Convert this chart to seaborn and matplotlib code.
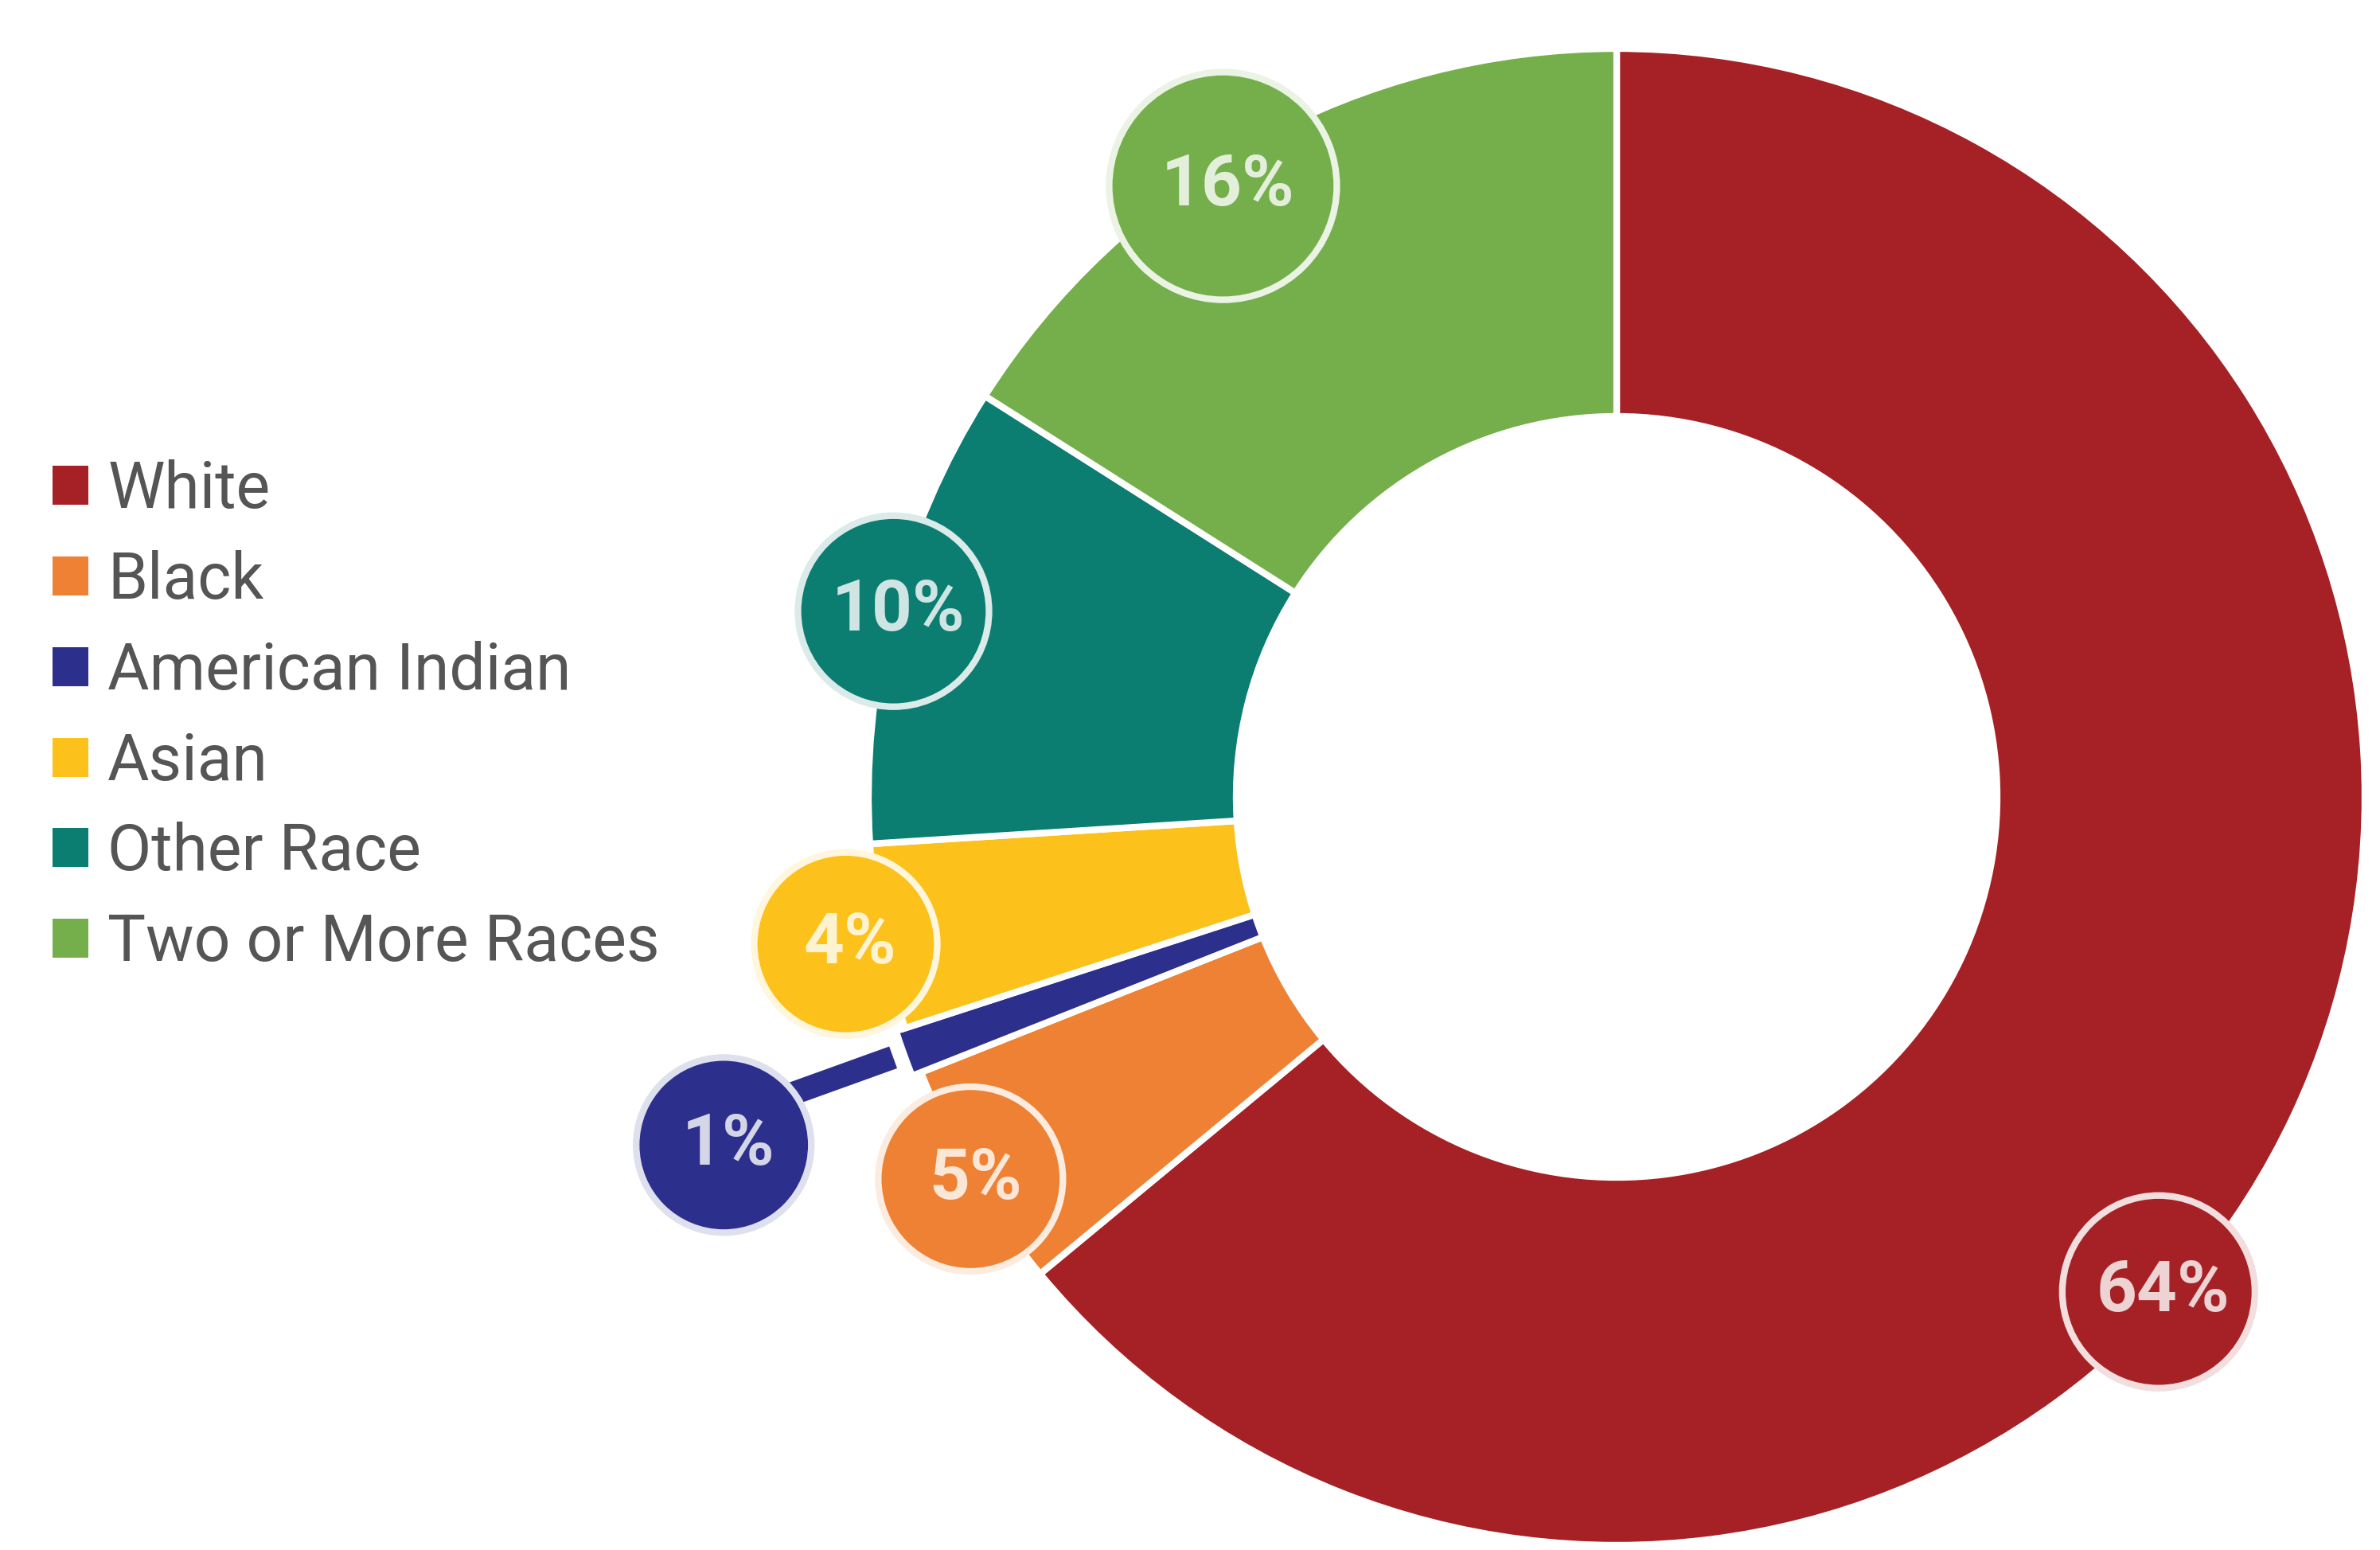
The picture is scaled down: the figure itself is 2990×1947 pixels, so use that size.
import numpy as np
import matplotlib
matplotlib.use("Agg")
import matplotlib.pyplot as plt
from matplotlib.patches import Circle, Patch
import matplotlib.colors as mcolors
import seaborn as sns

# ---- data ----
categories = ["White", "Black", "American Indian", "Asian", "Other Race", "Two or More Races"]
shares = [64, 5, 1, 4, 10, 16]
labels = ["64%", "5%", "1%", "4%", "10%", "16%"]
hex_colors = ["#A62125", "#EE8133", "#2C2F8C", "#FCC21B", "#0B7D71", "#74AF4B"]

# ---- style / layout ----
sns.set_theme(style="white")
plt.rcParams["font.family"] = ["Roboto", "DejaVu Sans"]
palette = sns.color_palette(hex_colors)

W, H = 2990, 1947
CX, CY = 2031, H - 1001
R_OUT, R_IN = 940, 478
label_r = [922, 943, 1204, 986, 938, 913]          # radial distance of label discs
label_dang = [-17.2, 0, 1.5, 0, 0, 4.0]             # angular nudge from slice middle
disc_r = [121, 116, 110, 115, 120, 143]             # disc radii (px)


def tint(c, amt):
    c = np.array(mcolors.to_rgb(c))
    return tuple(c + (1 - c) * amt)


fig = plt.figure(figsize=(W / 100, H / 100), dpi=100)
ax = fig.add_axes([0, 0, 1, 1])

wedges, _ = ax.pie(
    shares, colors=palette, startangle=90, counterclock=False,
    radius=R_OUT, center=(CX, CY),
    wedgeprops=dict(width=R_OUT - R_IN, edgecolor="white", linewidth=6),
)

# American Indian slice: main part plus thin leader to its disc
blue = wedges[2]
blue.set_radius(952)
blue.set_width(952 - R_IN)
mid_blue = np.deg2rad((blue.theta1 + blue.theta2) / 2)
ax.plot([CX + 966 * np.cos(mid_blue), CX + label_r[2] * np.cos(mid_blue)],
        [CY + 966 * np.sin(mid_blue), CY + label_r[2] * np.sin(mid_blue)],
        color=palette[2], lw=21, solid_capstyle="butt", zorder=2)

# label discs
for i, w in enumerate(wedges):
    mid = np.deg2rad((w.theta1 + w.theta2) / 2 + label_dang[i])
    x = CX + label_r[i] * np.cos(mid)
    y = CY + label_r[i] * np.sin(mid)
    ax.add_patch(Circle((x, y), disc_r[i], facecolor=palette[i],
                        edgecolor=tint(palette[i], 0.85), linewidth=6, zorder=4))
    ax.text(x + 6, y, labels[i], ha="center", va="center", fontsize=64,
            fontweight="bold", color=tint(palette[i], 0.8), zorder=5,
            family=["Roboto", "DejaVu Sans"])

# legend
handles = [Patch(facecolor=palette[i], edgecolor="none") for i in range(len(categories))]
leg = ax.legend(handles, categories, loc="upper left",
                bbox_to_anchor=(66 / W, 1 - 577 / H), frameon=False,
                fontsize=58, handlelength=0.56, handleheight=0.56,
                handletextpad=0.30, labelspacing=0.445, borderpad=0, borderaxespad=0)
for t in leg.get_texts():
    t.set_color("#555555")

ax.set_xlim(0, W)
ax.set_ylim(0, H)
ax.set_aspect("equal")
ax.axis("off")

fig.savefig("out.png", dpi=100, facecolor="white")
